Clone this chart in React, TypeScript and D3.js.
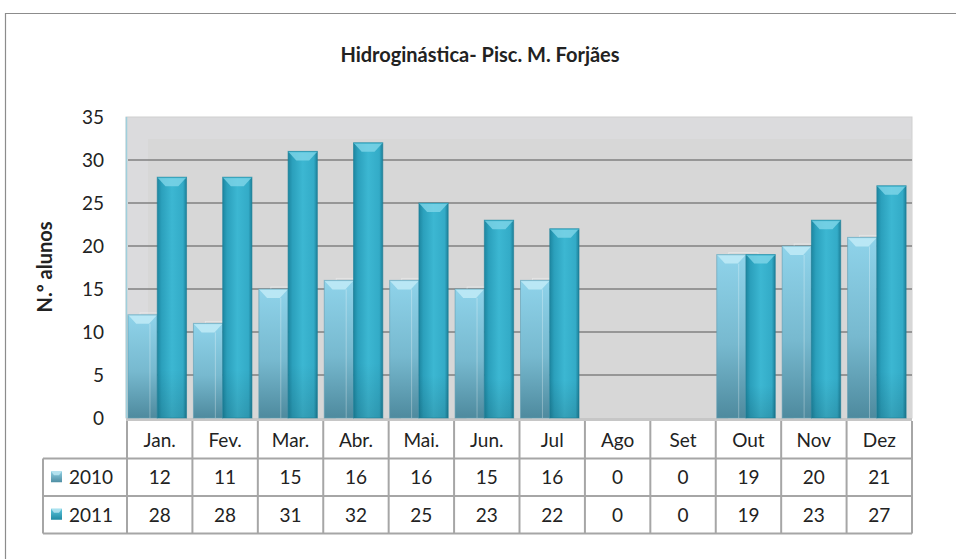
import React from "react";
import * as d3 from "d3";

const months = ["Jan.", "Fev.", "Mar.", "Abr.", "Mai.", "Jun.", "Jul", "Ago", "Set", "Out", "Nov", "Dez"];
const series = ["2010", "2011"];
const values2010 = [12, 11, 15, 16, 16, 15, 16, 0, 0, 19, 20, 21];
const values2011 = [28, 28, 31, 32, 25, 23, 22, 0, 0, 19, 23, 27];
const yTicks = [0, 5, 10, 15, 20, 25, 30, 35];

const W = 956;
const H = 559;
const FONT = "Lato, 'Open Sans', sans-serif";

export default function App() {
  const left = 127;
  const right = 912;
  const top = 117;
  const base = 418;
  const x = d3.scaleBand<string>().domain(months).range([left, right]).padding(0);
  const y = d3.scaleLinear().domain([0, 35]).range([base, top]);
  const bw = x.bandwidth();
  const xs = d3.scaleBand<string>().domain(series).range([1, bw * 0.91]).padding(0);
  const data = [values2010, values2011];

  const rowTop = 421;
  const rowH = 37.5;
  const legendLeft = 43;

  return (
    <svg width={W} height={H} style={{ display: "block", position: "absolute", left: 0, top: 0 }} fontFamily={FONT}>
      <defs>
        <linearGradient id="g2010" x1="0" y1="0" x2="0" y2="1">
          <stop offset="0" stopColor="#8fd3ea" />
          <stop offset="0.55" stopColor="#77b9cf" />
          <stop offset="1" stopColor="#4e8a9e" />
        </linearGradient>
        <linearGradient id="g2011" x1="0" y1="0" x2="1" y2="0">
          <stop offset="0" stopColor="#1d86a0" />
          <stop offset="0.15" stopColor="#2ba0bc" />
          <stop offset="0.5" stopColor="#3cb7d2" />
          <stop offset="0.88" stopColor="#33abc7" />
          <stop offset="1" stopColor="#1c7f98" />
        </linearGradient>
        <linearGradient id="g2011v" x1="0" y1="0" x2="0" y2="1">
          <stop offset="0" stopColor="#000" stopOpacity="0" />
          <stop offset="0.8" stopColor="#000" stopOpacity="0" />
          <stop offset="1" stopColor="#000" stopOpacity="0.12" />
        </linearGradient>
        <linearGradient id="k2010" x1="0" y1="0" x2="0" y2="1">
          <stop offset="0" stopColor="#8fcfe3" />
          <stop offset="1" stopColor="#4f8ea3" />
        </linearGradient>
        <linearGradient id="k2011" x1="0" y1="0" x2="0" y2="1">
          <stop offset="0" stopColor="#5cc6dd" />
          <stop offset="1" stopColor="#1f8aa3" />
        </linearGradient>
      </defs>
      <rect x={0} y={0} width={W} height={H} fill="#fff" />
      {/* outer frame */}
      <path d={`M5.5,${H} V13.5 H${W}`} fill="none" stroke="#8c8c8c" strokeWidth={1.2} />

      <text x={480} y={62} textAnchor="middle" fontSize={20} fontWeight="bold" fill="#222">
        Hidroginástica- Pisc. M. Forjães
      </text>

      {/* plot area walls */}
      <rect x={left - 1} y={top} width={right - left + 1} height={base - top} fill="#dbdbdd" stroke="#cfcfcf" strokeWidth={1} />
      <rect x={left + 21} y={top + 22} width={right - left - 21} height={base - top - 22} fill="#d7d7d7" />
      <line x1={left - 0.5} x2={left - 0.5} y1={top} y2={base} stroke="#9fcfdc" strokeWidth={1.5} />
      {yTicks.filter((t) => t > 0 && t < 35).map((t) => (
        <line key={t} x1={left + 1} x2={right} y1={y(t)} y2={y(t)} stroke="#808080" strokeWidth={1.5} />
      ))}
      {/* floor */}
      <rect x={left - 1} y={base} width={right - left + 1} height={3} fill="#c6c6c6" />

      {/* y tick labels */}
      {yTicks.map((t) => (
        <text key={t} x={104} y={y(t) + 7} textAnchor="end" fontSize={19} fill="#222">
          {t}
        </text>
      ))}
      <text transform={`translate(52,267) rotate(-90)`} textAnchor="middle" fontSize={20} fontWeight="bold" fill="#222">
        N.º alunos
      </text>

      {/* bars */}
      {months.map((m, i) =>
        series.map((s, si) => {
          const v = data[si][i];
          if (v <= 0) return null;
          const bx = (x(m) as number) + (xs(s) as number);
          const w = xs.bandwidth();
          const by = y(v);
          const h = base - by;
          const bev = Math.min(9, h);
          const hl = si === 0 ? "#c4ecf7" : "#7fd6e8";
          return (
            <g key={m + s}>
              {si === 0 && (
                <rect x={bx + 12} y={by - 2} width={w} height={base - by + 2} fill="none" stroke="#ffffff" strokeOpacity={0.35} strokeWidth={1} />
              )}
              <rect x={bx} y={by} width={w} height={h} fill={si === 0 ? "url(#g2010)" : "url(#g2011)"} />
              {si === 1 && <rect x={bx} y={by} width={w} height={h} fill="url(#g2011v)" />}
              <polygon
                points={`${bx},${by} ${bx + w},${by} ${bx + w * 0.72},${by + bev} ${bx + w * 0.28},${by + bev}`}
                fill={hl}
                opacity={0.8}
              />
              <line x1={bx} x2={bx + w} y1={by + 0.5} y2={by + 0.5} stroke={si === 0 ? "#a9e0f0" : "#4cc0d8"} strokeWidth={1} />
              <rect x={bx} y={by} width={w} height={h} fill="none" stroke={si === 0 ? "#5d9db2" : "#1b7f97"} strokeOpacity={0.6} strokeWidth={1} />
              {si === 0 && (
                <line x1={bx + w * 0.75} x2={bx + w * 0.75} y1={by + bev} y2={base} stroke="#fff" strokeOpacity={0.3} />
              )}
            </g>
          );
        })
      )}

      {/* data table */}
      <g stroke="#a6a6a6" strokeWidth={2} fill="none">
        <line x1={left} x2={right} y1={rowTop + rowH} y2={rowTop + rowH} />
        <line x1={legendLeft} x2={left} y1={rowTop + rowH} y2={rowTop + rowH} />
        <line x1={legendLeft} x2={right} y1={rowTop + rowH * 2} y2={rowTop + rowH * 2} />
        <line x1={legendLeft} x2={right} y1={rowTop + rowH * 3} y2={rowTop + rowH * 3} />
        <line x1={legendLeft} x2={legendLeft} y1={rowTop + rowH} y2={rowTop + rowH * 3} />
        {months.map((m) => (
          <line key={m} x1={x(m) as number} x2={x(m) as number} y1={rowTop} y2={rowTop + rowH * 3} />
        ))}
        <line x1={right} x2={right} y1={rowTop} y2={rowTop + rowH * 3} />
      </g>
      {months.map((m) => (
        <text key={m} x={(x(m) as number) + bw / 2} y={rowTop + rowH / 2 + 7} textAnchor="middle" fontSize={19} fill="#222">
          {m}
        </text>
      ))}
      {series.map((s, si) => (
        <g key={s}>
          <rect x={51} y={rowTop + rowH * (si + 1) + rowH / 2 - 6} width={11} height={11} fill={si === 0 ? "url(#k2010)" : "url(#k2011)"} />
          <polygon
            points={`51,${rowTop + rowH * (si + 1) + rowH / 2 - 6} 62,${rowTop + rowH * (si + 1) + rowH / 2 - 6} 59,${rowTop + rowH * (si + 1) + rowH / 2 - 2} 54,${rowTop + rowH * (si + 1) + rowH / 2 - 2}`}
            fill="#bfe9f4"
            opacity={0.8}
          />
          <text x={69} y={rowTop + rowH * (si + 1) + rowH / 2 + 7} fontSize={19} fill="#222">
            {s}
          </text>
          {months.map((m, i) => (
            <text key={m} x={(x(m) as number) + bw / 2} y={rowTop + rowH * (si + 1) + rowH / 2 + 7} textAnchor="middle" fontSize={19} fill="#222">
              {data[si][i]}
            </text>
          ))}
        </g>
      ))}
    </svg>
  );
}
